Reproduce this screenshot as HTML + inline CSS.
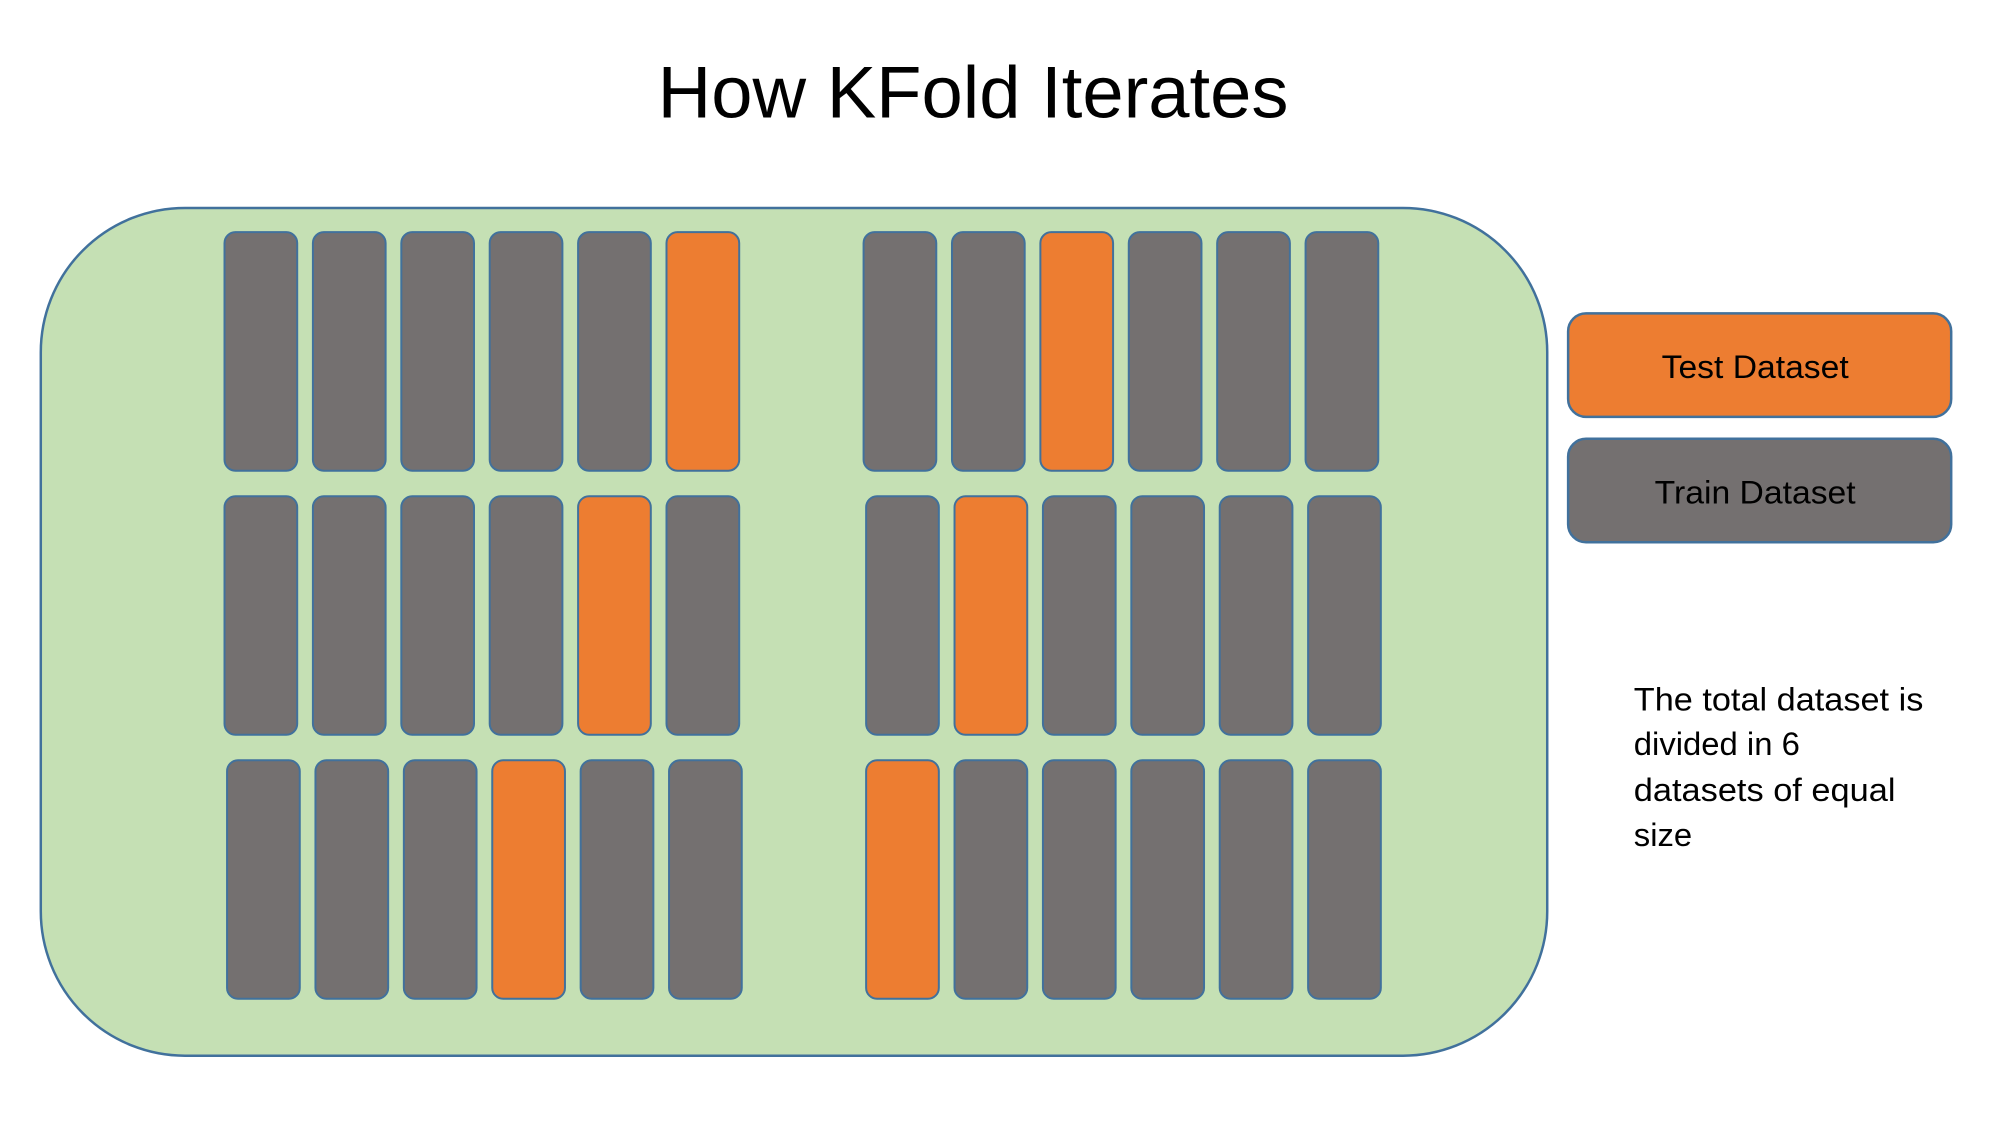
<!DOCTYPE html>
<html><head><meta charset="utf-8"><style>
html,body{margin:0;padding:0;background:#fff}
svg{display:block}
text{font-family:"Liberation Sans",sans-serif;fill:#000}
</style></head><body>
<svg id="chart" width="2000" height="1125" viewBox="0 0 2000 1125">
<g transform="scale(0.995)">
<text x="978" y="118" font-size="74" text-anchor="middle" textLength="634" lengthAdjust="spacingAndGlyphs">How KFold Iterates</text>
<rect x="41" y="209" width="1514" height="852" rx="145" ry="145" fill="#C5E0B4" stroke="#41719C" stroke-width="2.5"/>
<g id="bars"></g>
<rect x="1576" y="315" width="385" height="104" rx="18" fill="#ED7D31" stroke="#41719C" stroke-width="2.5"/>
<text x="1764" y="380" font-size="33" text-anchor="middle" textLength="188" lengthAdjust="spacingAndGlyphs">Test Dataset</text>
<rect x="1576" y="441" width="385" height="104" rx="18" fill="#747070" stroke="#41719C" stroke-width="2.5"/>
<text x="1764" y="506" font-size="33" text-anchor="middle" textLength="202" lengthAdjust="spacingAndGlyphs">Train Dataset</text>
<g font-size="33">
<text x="1642" y="714" textLength="291" lengthAdjust="spacingAndGlyphs">The total dataset is</text>
<text x="1642" y="759">divided in 6</text>
<text x="1642" y="805" textLength="263" lengthAdjust="spacingAndGlyphs">datasets of equal</text>
<text x="1642" y="850">size</text>
</g>
</g>
</svg>
<script>
// Which fold (0-5) is the test fold, per row, for the left and right groups
const leftTestFold = [5, 4, 3];
const rightTestFold = [2, 1, 0];
const foldCount = 6;
const rowCount = 3;

const S = 1.282;
const leftX0 = [176, 176, 178].map(v => v * S);
const rightX0 = [677, 679, 679].map(v => v * S);
const step = 69.3 * S, barW = 57 * S;
const rowY = [182, 389, 596].map(v => v * S);
const barH = 187 * S;
const g = document.getElementById('bars');
const NS = 'http://www.w3.org/2000/svg';
function drawGroup(x0s, tests, side) {
  for (let r = 0; r < rowCount; r++) {
    for (let i = 0; i < foldCount; i++) {
      const rc = document.createElementNS(NS, 'rect');
      rc.setAttribute('x', x0s[r] + i * step);
      rc.setAttribute('y', rowY[r]);
      rc.setAttribute('width', barW);
      rc.setAttribute('height', barH);
      rc.setAttribute('rx', 11);
      rc.setAttribute('fill', i === tests[r] ? '#ED7D31' : '#747070');
      rc.setAttribute('stroke', '#41719C');
      rc.setAttribute('stroke-width', 2);
      
      
      g.appendChild(rc);
    }
  }
}
drawGroup(leftX0, leftTestFold, 'left');
drawGroup(rightX0, rightTestFold, 'right');
</script>
</body></html>
